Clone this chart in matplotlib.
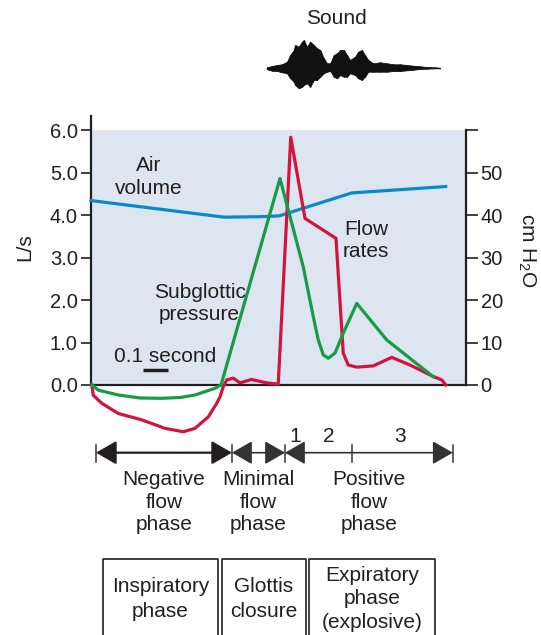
import matplotlib
matplotlib.use("Agg")
import matplotlib.pyplot as plt
from matplotlib.patches import FancyArrowPatch

plt.rcParams["font.family"] = ["Liberation Sans", "DejaVu Sans"]
plt.rcParams["mathtext.fontset"] = "custom"
plt.rcParams["mathtext.rm"] = "Liberation Sans"
plt.rcParams["mathtext.it"] = "Liberation Sans:italic"

INK = "#231f20"
BLUE = "#0a89c9"
GREEN = "#1a9a45"
RED = "#d2143c"
SHADE = "#dde5f1"

# time in seconds
volume_t = [0.0, 0.532, 0.676, 0.753, 1.043, 1.419]
volume_ls = [4.34, 3.95, 3.96, 3.98, 4.52, 4.67]

pressure_t = [0.003, 0.029, 0.109, 0.196, 0.283, 0.356, 0.416, 0.496, 0.52,
              0.756, 0.849, 0.889, 0.909, 0.929, 0.949, 0.976, 1.009, 1.063,
              1.183, 1.369]
pressure_cm = [0, -1.2, -2.35, -3.06, -3.13, -2.94, -2.35, -0.78, 0,
               48.6, 27.8, 16.1, 10.6, 7.1, 6.3, 7.5, 12.2, 19.2,
               10.6, 1.95]

flow_t = [0.003, 0.009, 0.043, 0.109, 0.203, 0.296, 0.369, 0.416, 0.469,
          0.503, 0.516, 0.529, 0.543, 0.569, 0.596, 0.642, 0.703, 0.749,
          0.799, 0.856, 0.98, 1.009, 1.029, 1.063, 1.129, 1.203, 1.276,
          1.369, 1.403, 1.419]
flow_ls = [0, -0.24, -0.43, -0.67, -0.82, -1.02, -1.10, -1.02, -0.75,
           -0.43, -0.28, -0.04, 0.12, 0.16, 0.05, 0.13, 0.05, 0.02,
           5.83, 3.92, 3.45, 0.75, 0.47, 0.42, 0.45, 0.65, 0.47,
           0.2, 0.12, 0.0]

# sound trace envelope (relative amplitude)
sound_t = [0.704, 0.724, 0.744, 0.764, 0.784, 0.797, 0.811, 0.817, 0.831,
           0.844, 0.851, 0.864, 0.877, 0.891, 0.904, 0.917, 0.931, 0.944,
           0.957, 0.971, 0.984, 0.997, 1.011, 1.024, 1.036, 1.056, 1.069,
           1.083, 1.096, 1.109, 1.129, 1.156, 1.183, 1.209, 1.236, 1.263,
           1.289, 1.316, 1.343, 1.376, 1.396]
sound_up = [1.0, 2.3, 3.3, 4.0, 6.6, 13.3, 18.3, 23.3, 21.6, 26.6, 28.3,
            21.6, 26.6, 23.3, 20.0, 18.3, 10.0, 5.0, 5.0, 13.3, 15.0, 18.3,
            18.3, 13.3, 8.3, 11.6, 16.6, 18.3, 13.3, 8.3, 5.0, 6.0, 5.0,
            4.0, 4.0, 3.3, 2.6, 2.0, 1.3, 1.0, 0.6]
sound_down = [1.0, 2.4, 2.7, 4.0, 5.0, 10.0, 13.4, 16.7, 20.0, 18.4, 16.7,
              15.0, 18.4, 11.7, 11.7, 8.4, 5.0, 3.4, 2.7, 8.4, 10.0, 6.7,
              8.4, 8.4, 5.0, 6.7, 10.0, 11.7, 8.4, 3.4, 3.4, 3.4, 3.4,
              2.7, 2.7, 2.0, 1.4, 0.7, 0.4, 0.0, 0.0]

left_ticks = [0, 1, 2, 3, 4, 5, 6]
right_ticks = [0, 10, 20, 30, 40, 50, 60]
right_labels = ["0", "10", "20", "30", "40", "50", ""]

phase_edges = [0.02, 0.564, 0.776, 1.447]
sub_edge = 1.043
sub_labels = [("1", 0.816), ("2", 0.949), ("3", 1.236)]
phase_names = ["Negative\nflow\nphase", "Minimal\nflow\nphase", "Positive\nflow\nphase"]
box_edges = [(0.049, 0.507), (0.523, 0.86), (0.873, 1.376)]
box_names = ["Inspiratory\nphase", "Glottis\nclosure", "Expiratory\nphase\n(explosive)"]

W, H = 541, 635
fig = plt.figure(figsize=(W / 100, H / 100), dpi=100)
left, width = 91 / W, 375 / W

ax = fig.add_axes([left, 250 / H, width, 269 / H])
ax.set_xlim(0, 1.5)
ax.set_ylim(0, 6.33)
ax.set_facecolor("none")
ax.axhspan(0, 6, color=SHADE, zorder=0, lw=0)
for s in ["top", "right"]:
    ax.spines[s].set_visible(False)
for s in ["left", "bottom"]:
    ax.spines[s].set_color(INK)
    ax.spines[s].set_linewidth(1.6)
ax.set_xticks([])
ax.set_yticks(left_ticks)
ax.set_yticklabels([f"{v:.1f}" for v in left_ticks])
ax.tick_params(axis="y", direction="out", length=7.5, width=1.2, pad=2,
               labelsize=14.5, colors=INK)
ax.plot(volume_t, volume_ls, color=BLUE, lw=2.3, clip_on=False, zorder=3)
ax.plot(flow_t, flow_ls, color=RED, lw=2.3, clip_on=False, zorder=5,
        solid_joinstyle="round")

ax2 = ax.twinx()
ax2.set_ylim(0, 63.3)
for s in ["top", "left", "bottom"]:
    ax2.spines[s].set_visible(False)
ax2.spines["right"].set_bounds(0, 60)
ax2.spines["right"].set_color(INK)
ax2.spines["right"].set_linewidth(1.6)
ax2.set_yticks(right_ticks)
ax2.set_yticklabels(right_labels)
ax2.tick_params(axis="y", direction="out", length=8.5, width=1.2, pad=2,
                labelsize=14.5, colors=INK)
ax2.plot(pressure_t, pressure_cm, color=GREEN, lw=2.3, clip_on=False, zorder=4)

ax.text(-0.176, 0.514, "L/s", transform=ax.transAxes, rotation=90,
        ha="center", va="center", fontsize=15, color=INK)
ax.text(1.162, 0.502, r"cm H$_{\mathrm{2}}$O", transform=ax.transAxes,
        rotation=270, ha="center", va="center", fontsize=15, color=INK)

ax.text(0.232, 4.89, "Air\nvolume", ha="center", va="center", fontsize=15,
        color=INK, linespacing=1.25, zorder=6)
ax.text(0.434, 1.92, "Subglottic\npressure", ha="center", va="center",
        fontsize=15, color=INK, linespacing=1.2, zorder=6)
ax.text(1.101, 3.41, "Flow\nrates", ha="center", va="center", fontsize=15,
        color=INK, linespacing=1.2, zorder=6)
ax.text(0.295, 0.67, "0.1 second", ha="center", va="center", fontsize=15,
        color=INK, zorder=6)
ax.plot([0.207, 0.307], [0.353, 0.353], color=INK, lw=2.5, solid_capstyle="butt")

# sound trace
ax_s = fig.add_axes([left, (H - 101.6) / H, width, 66.6 / H])
ax_s.set_xlim(0, 1.5)
ax_s.set_ylim(-33.3, 33.3)
ax_s.axis("off")
ax_s.fill_between(sound_t, sound_up, [-d for d in sound_down],
                  color="#111111", lw=0.6, edgecolor="#111111")
ax_s.vlines(sound_t, [-d for d in sound_down], sound_up, color="#111111", lw=1.0)

# annotations in pixel rows
ann = fig.add_axes([left, 0, width, 1])
ann.set_xlim(0, 1.5)
ann.set_ylim(H, 0)
ann.axis("off")
ann.text(0.983, 18.3, "Sound", ha="center", va="center", fontsize=15, color=INK)

arrow_y = 452.7
for i in range(3):
    a, b = phase_edges[i], phase_edges[i + 1]
    arr = FancyArrowPatch((a, arrow_y), (b, arrow_y),
                          arrowstyle="<|-|>,head_length=1.25,head_width=0.72",
                          mutation_scale=10, shrinkA=0, shrinkB=0,
                          color=INK if i == 0 else "#333333",
                          lw=1.6 if i == 0 else 1.2)
    ann.add_patch(arr)
    ann.text((a + b) / 2, 502, phase_names[i], ha="center", va="center",
             fontsize=15, color=INK, linespacing=1.25)
for e in phase_edges + [sub_edge]:
    ann.plot([e, e], [445, 461.7], color="#333333", lw=1.1)
for lab, x in sub_labels:
    ann.text(x, 437, lab, ha="center", va="center", fontsize=15, color=INK)

for (a, b), name in zip(box_edges, box_names):
    ann.plot([a, a, b, b], [645, 559.3, 559.3, 645], color=INK, lw=1.2,
             clip_on=False)
    ann.text((a + b) / 2, 599, name, ha="center", va="center", fontsize=15,
             color=INK, linespacing=1.35 if name.count("\n") == 1 else 1.28)

fig.savefig("out.png", dpi=100)
